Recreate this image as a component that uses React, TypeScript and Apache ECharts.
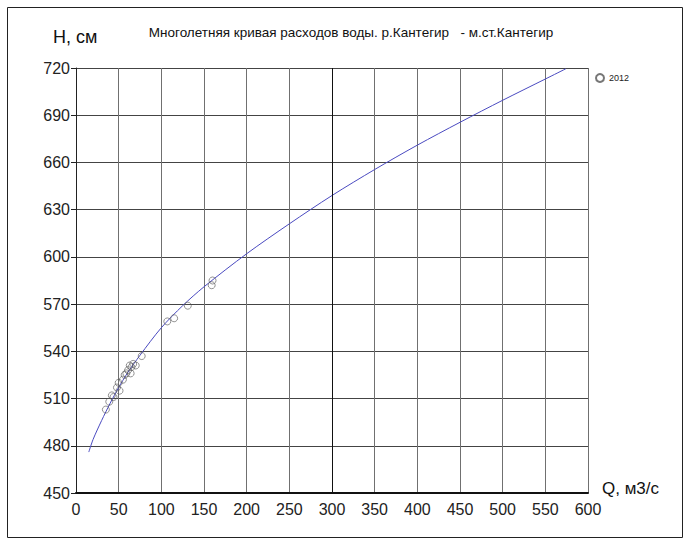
import React, { useEffect, useRef } from "react";
import * as echarts from "echarts";

const curveQ = [15, 20, 30, 40, 50, 60, 75, 100, 125, 150, 200, 250, 300, 350, 400, 450, 500, 550, 574];
const curveH = [476, 484, 496, 507, 517, 526, 537.5, 555, 569, 581, 602, 621, 639, 655.5, 671, 685.5, 699.5, 713, 719.5];

const pointQ = [35, 39, 42, 44, 48, 50, 51, 55, 57, 59, 61, 63, 64, 65, 67, 70, 77, 107, 115, 131, 159, 160];
const pointH = [503, 508, 512, 511, 517, 520, 515, 522, 525, 526, 528, 531, 526, 530, 532, 531, 537, 559, 561, 569, 582, 585];

const yTicks = [450, 480, 510, 540, 570, 600, 630, 660, 690, 720];
const xTicks = [0, 50, 100, 150, 200, 250, 300, 350, 400, 450, 500, 550, 600];

const titleText = "Многолетняя кривая расходов воды. р.Кантегир   - м.ст.Кантегир";
const yName = "H, см";
const xName = "Q, м3/с";
const seriesName = "2012";

const FONT = "'Liberation Sans Narrow', 'Liberation Sans', Arial, sans-serif";

export default function App() {
  const ref = useRef<HTMLDivElement>(null);
  useEffect(() => {
    if (!ref.current) return;
    const chart = echarts.init(ref.current, null, { renderer: "svg" });
    chart.setOption({
      animation: false,
      backgroundColor: "#ffffff",
      textStyle: { fontFamily: FONT },
      grid: { left: 76, right: 102, top: 68, bottom: 53, containLabel: false },
      legend: {
        data: [{ name: seriesName, icon: "circle" }],
        left: 590,
        top: 68,
        itemWidth: 8,
        itemHeight: 8,
        itemGap: 4,
        textStyle: { fontSize: 9, color: "#222", fontFamily: FONT },
      },
      xAxis: {
        type: "value",
        min: xTicks[0],
        max: xTicks[xTicks.length - 1],
        interval: 50,
        axisLine: { show: true, lineStyle: { color: "#111", width: 2 } },
        axisTick: { show: false },
        axisLabel: { fontSize: 16, color: "#222", margin: 8, fontFamily: FONT },
        splitLine: { show: true, lineStyle: { color: "#707070", width: 1 } },
      },
      yAxis: {
        type: "value",
        min: yTicks[0],
        max: yTicks[yTicks.length - 1],
        interval: 30,
        axisLine: { show: true, lineStyle: { color: "#222", width: 1 } },
        axisTick: { show: true, length: 5, lineStyle: { color: "#222" } },
        axisLabel: { fontSize: 16, color: "#222", margin: 6, fontFamily: FONT },
        splitLine: { show: true, lineStyle: { color: "#444", width: 1 } },
      },
      series: [
        {
          name: "curve",
          type: "line",
          data: curveQ.map((q, i) => [q, curveH[i]]),
          smooth: 0.3,
          showSymbol: false,
          symbol: "none",
          lineStyle: { color: "#4a4ac0", width: 1 },
          markLine: {
            silent: true,
            symbol: "none",
            label: { show: false },
            lineStyle: { color: "#111", width: 1, type: "solid" },
            data: [{ xAxis: 300 }],
          },
          z: 3,
        },
        {
          name: seriesName,
          type: "scatter",
          data: pointQ.map((q, i) => [q, pointH[i]]),
          symbol: "circle",
          symbolSize: 7,
          itemStyle: { color: "rgba(255,255,255,0)", borderColor: "#555", borderWidth: 0.8 },
          z: 4,
        },
      ],
      graphic: [
        {
          type: "rect",
          shape: { x: 7.5, y: 7.5, width: 675, height: 530 },
          style: { fill: "none", stroke: "#222", lineWidth: 1 },
          silent: true,
        },
        {
          type: "text",
          x: 351,
          y: 32,
          style: {
            text: titleText,
            fontSize: 13.5,
            fontFamily: FONT,
            fill: "#111",
            align: "center",
            verticalAlign: "middle",
          },
        },
        {
          type: "text",
          x: 53,
          y: 37,
          style: {
            text: yName,
            fontSize: 18,
            fontFamily: FONT,
            fill: "#111",
            align: "left",
            verticalAlign: "middle",
          },
        },
        {
          type: "text",
          x: 602,
          y: 488,
          style: {
            text: xName,
            fontSize: 17,
            fontFamily: FONT,
            fill: "#111",
            align: "left",
            verticalAlign: "middle",
          },
        },
      ],
    });
    return () => chart.dispose();
  }, []);
  return (
    <div
      ref={ref}
      style={{ position: "fixed", left: 0, top: 0, width: 690, height: 546 }}
    />
  );
}
